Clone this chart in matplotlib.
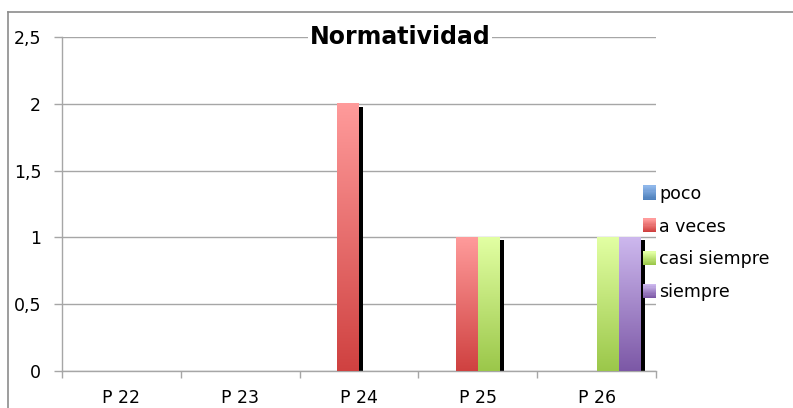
import numpy as np
import matplotlib
matplotlib.use("Agg")
import matplotlib.pyplot as plt
import matplotlib.transforms as mtransforms
from matplotlib.colors import LinearSegmentedColormap
from matplotlib.legend_handler import HandlerBase
from matplotlib.patches import Rectangle
from matplotlib.lines import Line2D

# ---- data ----
categories = ["P 22", "P 23", "P 24", "P 25", "P 26"]
series_names = ["poco", "a veces", "casi siempre", "siempre"]
poco = [0, 0, 0, 0, 0]
a_veces = [0, 0, 2, 1, 0]
casi_siempre = [0, 0, 0, 1, 1]
siempre = [0, 0, 0, 0, 1]
y_ticks = [0, 0.5, 1, 1.5, 2, 2.5]
y_tick_labels = ["0", "0,5", "1", "1,5", "2", "2,5"]
title = "Normatividad"

series_values = [poco, a_veces, casi_siempre, siempre]
# (top colour, bottom colour) of each series' vertical gradient
gradients = [
    ("#8FB7EA", "#4F81BD"),
    ("#FF9B9B", "#CF4140"),
    ("#E2FFA3", "#9BC74A"),
    ("#CDB8EE", "#7C58A6"),
]

W, H = 793, 408
fig = plt.figure(figsize=(W / 100, H / 100), dpi=100)
fig.patch.set_facecolor("white")

left, right, top, bottom = 62, 656, 37, 371
ax = fig.add_axes([left / W, 1 - bottom / H, (right - left) / W, (bottom - top) / H])
ax.set_facecolor("white")

x = np.arange(len(categories))
n = len(series_values)
bw = 0.185

# drop shadow, offset right and down
shadow_tr = mtransforms.offset_copy(ax.transData, fig=fig, x=4, y=-3, units="dots")
for i, vals in enumerate(series_values):
    ax.bar(x + (i - (n - 1) / 2) * bw, vals, width=bw, color="black",
           transform=shadow_tr, zorder=2, linewidth=0)

# gradient-filled bars
for i, vals in enumerate(series_values):
    bars = ax.bar(x + (i - (n - 1) / 2) * bw, vals, width=bw,
                  color=gradients[i][1], zorder=3, linewidth=0)
    cmap = LinearSegmentedColormap.from_list(series_names[i], [gradients[i][1], gradients[i][0]])
    for b in bars:
        h = b.get_height()
        if h <= 0:
            continue
        x0 = b.get_x()
        ax.imshow(np.linspace(0, 1, 256).reshape(-1, 1), cmap=cmap, origin="lower",
                  extent=(x0, x0 + b.get_width(), 0, h), aspect="auto",
                  zorder=4, interpolation="bilinear")

ax.set_xlim(-0.5, len(categories) - 0.5)
ax.set_ylim(0, 2.5)
ax.set_aspect("auto")

grid_c = "#A6A6A6"
ax.set_yticks(y_ticks)
ax.set_yticklabels(y_tick_labels)
ax.yaxis.grid(True, color=grid_c, linewidth=1.0, zorder=0)
ax.set_axisbelow(True)
ax.set_xticks(x)
ax.set_xticklabels(categories)
ax.set_xticks(np.arange(len(categories) + 1) - 0.5, minor=True)
ax.tick_params(axis="x", which="major", length=0, pad=13, labelsize=12.5, colors="black")
ax.tick_params(axis="x", which="minor", length=5, width=1, color=grid_c, direction="out")
ax.tick_params(axis="y", length=6, width=1, color=grid_c, pad=9, labelsize=12.5)
for s in ("top", "right"):
    ax.spines[s].set_visible(False)
for s in ("left", "bottom"):
    ax.spines[s].set_color(grid_c)
    ax.spines[s].set_linewidth(1.0)

# title over the top gridline on a white box
fig.text(400 / W, 1 - 37 / H, title, ha="center", va="center",
         fontsize=17, fontweight="bold", family="DejaVu Sans",
         bbox=dict(facecolor="white", edgecolor="none", pad=1), zorder=10)

# chart area border (left and top edges)
fig.add_artist(Line2D([8 / W, 8 / W], [0, 1 - 12 / H], transform=fig.transFigure,
                      color="#8C8C8C", linewidth=1.2))
fig.add_artist(Line2D([8 / W, 1], [1 - 12 / H, 1 - 12 / H], transform=fig.transFigure,
                      color="#8C8C8C", linewidth=1.2))


class GradientHandle:
    def __init__(self, top, bot):
        self.top, self.bot = top, bot


class HandlerGradient(HandlerBase):
    def create_artists(self, legend, orig, xdescent, ydescent, width, height, fontsize, trans):
        cmap = LinearSegmentedColormap.from_list("g", [orig.bot, orig.top])
        steps = 12
        hh = 10.0
        y0 = -ydescent + (height - hh) / 2
        arts = []
        for k in range(steps):
            arts.append(Rectangle((-xdescent, y0 + k * hh / steps), width, hh / steps + 0.3,
                                  facecolor=cmap(k / (steps - 1)), edgecolor="none",
                                  transform=trans))
        return arts


handles = [GradientHandle(t, b) for t, b in gradients]
leg = fig.legend(handles, series_names, handler_map={GradientHandle: HandlerGradient()},
                 loc="center left", bbox_to_anchor=(643 / W, 1 - 243 / H),
                 frameon=False, fontsize=12.5, handlelength=0.75, handleheight=0.7,
                 handletextpad=0.2, labelspacing=0.85, borderpad=0, borderaxespad=0)

fig.savefig("out.png", dpi=100, facecolor="white")
